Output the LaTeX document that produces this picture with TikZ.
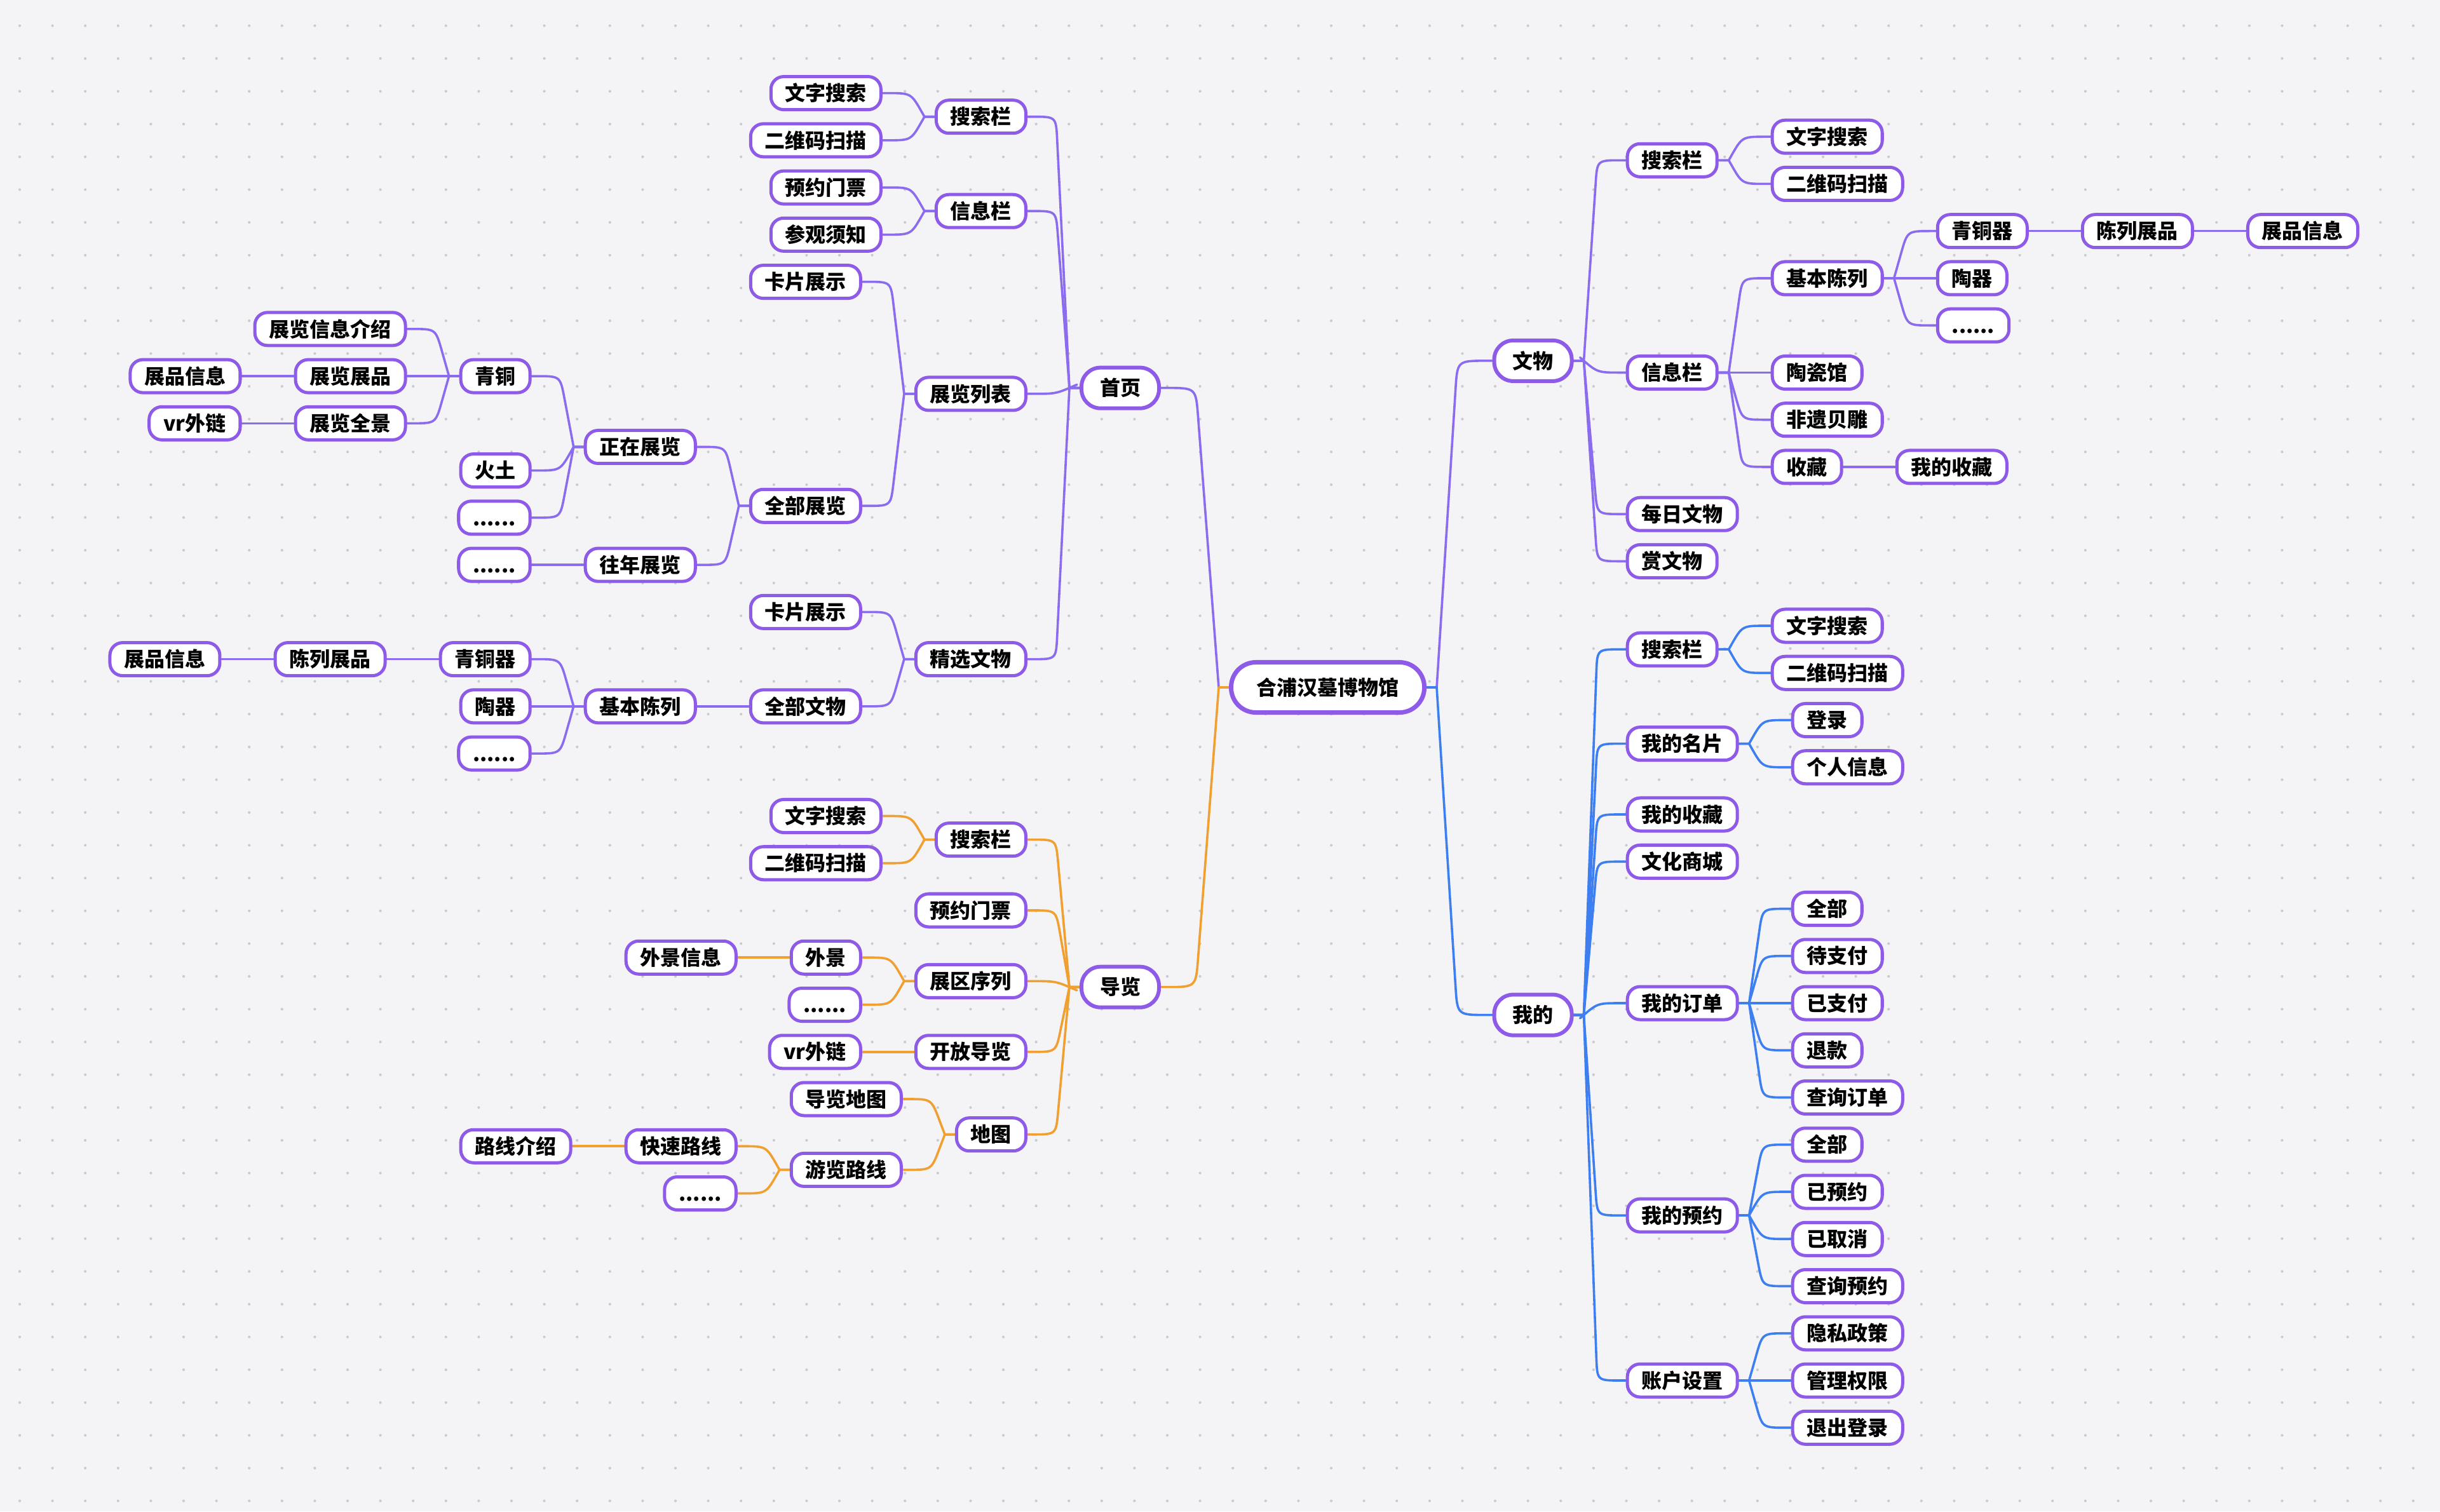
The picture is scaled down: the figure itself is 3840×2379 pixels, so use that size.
\documentclass[tikz,border=0pt]{standalone}
\usepackage{fontspec}
\newfontfamily\cjk{Noto Sans CJK SC}
\usetikzlibrary{calc}
\pgfdeclarelayer{back}
\pgfdeclarelayer{lines}
\pgfsetlayers{back,lines,main}
\definecolor{bgc}{HTML}{F4F4F6}
\definecolor{dotc}{HTML}{CACACF}
\definecolor{nodeb}{HTML}{8E5BE8}
\definecolor{conP}{HTML}{8C6CEE}
\definecolor{conO}{HTML}{F0A030}
\definecolor{conB}{HTML}{3D7EF0}
\newcommand\nodefont{\cjk\bfseries\fontsize{9.1pt}{10pt}\selectfont}
\tikzset{
  leaf/.style={draw=nodeb, fill=white, line width=0.05cm, rounded corners=0.2cm,
    minimum height=0.52cm, inner xsep=0.225cm, inner ysep=0.03cm,
    text height=0.282cm, text depth=0.038cm, font=\nodefont},
  lvone/.style={leaf, line width=0.06cm, rounded corners=0.3cm, minimum height=0.64cm, inner xsep=0.29cm},
  rootnode/.style={leaf, line width=0.07cm, rounded corners=0.39cm, minimum height=0.79cm, inner xsep=0.4cm},
  cp/.style={draw=conP, line width=0.036cm, line cap=round, line join=round},
  co/.style={draw=conO, line width=0.036cm, line cap=round, line join=round},
  cb/.style={draw=conB, line width=0.036cm, line cap=round, line join=round},
}
\def\rowst{74.25}
\def\yA{146.6}
\def\yB{1284.5}
\def\yC{215.2}
\def\yD{985}
\def\gK{45}
\def\rK{0.36cm}
% node left of parent
\newcommand\NL[5]{\pgfmathsetmacro\ty{#4}\node[#1,anchor=east,xshift=-0.82cm] (#2) at (#3.west |- 0,\ty) {#5};}
% node right of parent
\newcommand\NR[5]{\pgfmathsetmacro\ty{#4}\node[#1,anchor=west,xshift=0.82cm] (#2) at (#3.east |- 0,\ty) {#5};}
% curved connectors
\newcommand\cL[3]{%
  \path (#2.west) ++(-16,0) coordinate (tT) (#3.east) ++(\gK,0) coordinate (tK);
  \draw[#1] (#2.west) -- (tT) -- ($(tK)!\rK!(tT)$) .. controls (tK) .. ($(tK)!\rK!(#3.east)$) -- (#3.east);}
\newcommand\cR[3]{%
  \path (#2.east) ++(16,0) coordinate (tT) (#3.west) ++(-\gK,0) coordinate (tK);
  \draw[#1] (#2.east) -- (tT) -- ($(tK)!\rK!(tT)$) .. controls (tK) .. ($(tK)!\rK!(#3.west)$) -- (#3.west);}
% straight connectors
\newcommand\sL[3]{\draw[#1] (#2.west) -- (#3.east);}
\newcommand\sR[3]{\draw[#1] (#2.east) -- (#3.west);}
\begin{document}
\begin{tikzpicture}[x=0.01cm,y=-0.01cm]
\useasboundingbox (0,0) rectangle (3840,2379);
\begin{pgfonlayer}{back}
\fill[bgc] (0,0) rectangle (3840,2379);
\foreach \i in {0,...,73}{\foreach \j in {0,...,45}{\fill[dotc] ({31+51.6*\i},{40.5+51.6*\j}) circle (2.1);}}
\end{pgfonlayer}

% root and level 1
\node[rootnode] (R) at (2089.5,1082) {合浦汉墓博物馆};
\node[lvone,anchor=east] (sy) at (1827,610.66) {首页};
\node[lvone,anchor=east] (dl) at (1827,1553.66) {导览};
\node[lvone,anchor=west] (ww) at (2348.5,567.9) {文物};
\node[lvone,anchor=west] (wd) at (2348.5,1597.6) {我的};

% 首页 subtree
\NL{leaf}{a_ss}{sy}{\yA+\rowst*0.5}{搜索栏}
\NL{leaf}{a_ss1}{a_ss}{\yA}{文字搜索}
\NL{leaf}{a_ss2}{a_ss}{\yA+\rowst}{二维码扫描}
\NL{leaf}{a_xx}{sy}{\yA+\rowst*2.5}{信息栏}
\NL{leaf}{a_xx1}{a_xx}{\yA+\rowst*2}{预约门票}
\NL{leaf}{a_xx2}{a_xx}{\yA+\rowst*3}{参观须知}
\NL{leaf}{a_zl}{sy}{\yA+\rowst*6.375}{展览列表}
\NL{leaf}{a_kp}{a_zl}{\yA+\rowst*4}{卡片展示}
\NL{leaf}{a_qz}{a_zl}{\yA+\rowst*8.75}{全部展览}
\NL{leaf}{a_zz}{a_qz}{\yA+\rowst*7.5}{正在展览}
\NL{leaf}{a_qt}{a_zz}{\yA+\rowst*6}{青铜}
\NL{leaf}{a_js}{a_qt}{\yA+\rowst*5}{展览信息介绍}
\NL{leaf}{a_zp}{a_qt}{\yA+\rowst*6}{展览展品}
\NL{leaf}{a_zpx}{a_zp}{\yA+\rowst*6}{展品信息}
\NL{leaf}{a_qj}{a_qt}{\yA+\rowst*7}{展览全景}
\NL{leaf}{a_vr}{a_qj}{\yA+\rowst*7}{vr外链}
\NL{leaf}{a_ht}{a_zz}{\yA+\rowst*8}{火土}
\NL{leaf}{a_d1}{a_zz}{\yA+\rowst*9}{......}
\NL{leaf}{a_wn}{a_qz}{\yA+\rowst*10}{往年展览}
\NL{leaf}{a_d2}{a_wn}{\yA+\rowst*10}{......}
\NL{leaf}{a_jx}{sy}{\yA+\rowst*12}{精选文物}
\NL{leaf}{a_kp2}{a_jx}{\yA+\rowst*11}{卡片展示}
\NL{leaf}{a_qw}{a_jx}{\yA+\rowst*13}{全部文物}
\NL{leaf}{a_jb}{a_qw}{\yA+\rowst*13}{基本陈列}
\NL{leaf}{a_qtq}{a_jb}{\yA+\rowst*12}{青铜器}
\NL{leaf}{a_cl}{a_qtq}{\yA+\rowst*12}{陈列展品}
\NL{leaf}{a_cx}{a_cl}{\yA+\rowst*12}{展品信息}
\NL{leaf}{a_tq}{a_jb}{\yA+\rowst*13}{陶器}
\NL{leaf}{a_d3}{a_jb}{\yA+\rowst*14}{......}

% 导览 subtree
\NL{leaf}{b_ss}{dl}{\yB+\rowst*0.5}{搜索栏}
\NL{leaf}{b_ss1}{b_ss}{\yB}{文字搜索}
\NL{leaf}{b_ss2}{b_ss}{\yB+\rowst}{二维码扫描}
\NL{leaf}{b_yy}{dl}{\yB+\rowst*2}{预约门票}
\NL{leaf}{b_zq}{dl}{\yB+\rowst*3.5}{展区序列}
\NL{leaf}{b_wj}{b_zq}{\yB+\rowst*3}{外景}
\NL{leaf}{b_wjx}{b_wj}{\yB+\rowst*3}{外景信息}
\NL{leaf}{b_d1}{b_zq}{\yB+\rowst*4}{......}
\NL{leaf}{b_kf}{dl}{\yB+\rowst*5}{开放导览}
\NL{leaf}{b_vr}{b_kf}{\yB+\rowst*5}{vr外链}
\NL{leaf}{b_dt}{dl}{\yB+\rowst*6.75}{地图}
\NL{leaf}{b_dd}{b_dt}{\yB+\rowst*6}{导览地图}
\NL{leaf}{b_yl}{b_dt}{\yB+\rowst*7.5}{游览路线}
\NL{leaf}{b_ks}{b_yl}{\yB+\rowst*7}{快速路线}
\NL{leaf}{b_lx}{b_ks}{\yB+\rowst*7}{路线介绍}
\NL{leaf}{b_d2}{b_yl}{\yB+\rowst*8}{......}

% 文物 subtree
\NR{leaf}{c_ss}{ww}{\yC+\rowst*0.5}{搜索栏}
\NR{leaf}{c_ss1}{c_ss}{\yC}{文字搜索}
\NR{leaf}{c_ss2}{c_ss}{\yC+\rowst}{二维码扫描}
\NR{leaf}{c_xx}{ww}{\yC+\rowst*5}{信息栏}
\NR{leaf}{c_jb}{c_xx}{\yC+\rowst*3}{基本陈列}
\NR{leaf}{c_qtq}{c_jb}{\yC+\rowst*2}{青铜器}
\NR{leaf}{c_cl}{c_qtq}{\yC+\rowst*2}{陈列展品}
\NR{leaf}{c_cx}{c_cl}{\yC+\rowst*2}{展品信息}
\NR{leaf}{c_tq}{c_jb}{\yC+\rowst*3}{陶器}
\NR{leaf}{c_d1}{c_jb}{\yC+\rowst*4}{......}
\NR{leaf}{c_tc}{c_xx}{\yC+\rowst*5}{陶瓷馆}
\NR{leaf}{c_fy}{c_xx}{\yC+\rowst*6}{非遗贝雕}
\NR{leaf}{c_sc}{c_xx}{\yC+\rowst*7}{收藏}
\NR{leaf}{c_wsc}{c_sc}{\yC+\rowst*7}{我的收藏}
\NR{leaf}{c_mr}{ww}{\yC+\rowst*8}{每日文物}
\NR{leaf}{c_sw}{ww}{\yC+\rowst*9}{赏文物}

% 我的 subtree
\NR{leaf}{d_ss}{wd}{\yD+\rowst*0.5}{搜索栏}
\NR{leaf}{d_ss1}{d_ss}{\yD}{文字搜索}
\NR{leaf}{d_ss2}{d_ss}{\yD+\rowst}{二维码扫描}
\NR{leaf}{d_mp}{wd}{\yD+\rowst*2.5}{我的名片}
\NR{leaf}{d_dl}{d_mp}{\yD+\rowst*2}{登录}
\NR{leaf}{d_gr}{d_mp}{\yD+\rowst*3}{个人信息}
\NR{leaf}{d_sc}{wd}{\yD+\rowst*4}{我的收藏}
\NR{leaf}{d_wh}{wd}{\yD+\rowst*5}{文化商城}
\NR{leaf}{d_dd}{wd}{\yD+\rowst*8}{我的订单}
\NR{leaf}{d_dd1}{d_dd}{\yD+\rowst*6}{全部}
\NR{leaf}{d_dd2}{d_dd}{\yD+\rowst*7}{待支付}
\NR{leaf}{d_dd3}{d_dd}{\yD+\rowst*8}{已支付}
\NR{leaf}{d_dd4}{d_dd}{\yD+\rowst*9}{退款}
\NR{leaf}{d_dd5}{d_dd}{\yD+\rowst*10}{查询订单}
\NR{leaf}{d_yy}{wd}{\yD+\rowst*12.5}{我的预约}
\NR{leaf}{d_yy1}{d_yy}{\yD+\rowst*11}{全部}
\NR{leaf}{d_yy2}{d_yy}{\yD+\rowst*12}{已预约}
\NR{leaf}{d_yy3}{d_yy}{\yD+\rowst*13}{已取消}
\NR{leaf}{d_yy4}{d_yy}{\yD+\rowst*14}{查询预约}
\NR{leaf}{d_zh}{wd}{\yD+\rowst*16}{账户设置}
\NR{leaf}{d_zh1}{d_zh}{\yD+\rowst*15}{隐私政策}
\NR{leaf}{d_zh2}{d_zh}{\yD+\rowst*16}{管理权限}
\NR{leaf}{d_zh3}{d_zh}{\yD+\rowst*17}{退出登录}

\begin{pgfonlayer}{lines}
% root connectors
\def\gK{55}\def\rK{0.45cm}
\cL{cp}{R}{sy}
\cR{cp}{R}{ww}
\cL{co}{R}{dl}
\cR{cb}{R}{wd}
\def\gK{45}\def\rK{0.36cm}
% 首页
\cL{cp}{sy}{a_ss} \cL{cp}{sy}{a_xx} \cL{cp}{sy}{a_zl} \cL{cp}{sy}{a_jx}
\cL{cp}{a_ss}{a_ss1} \cL{cp}{a_ss}{a_ss2}
\cL{cp}{a_xx}{a_xx1} \cL{cp}{a_xx}{a_xx2}
\cL{cp}{a_zl}{a_kp} \cL{cp}{a_zl}{a_qz}
\cL{cp}{a_qz}{a_zz} \cL{cp}{a_qz}{a_wn}
\cL{cp}{a_zz}{a_qt} \cL{cp}{a_zz}{a_ht} \cL{cp}{a_zz}{a_d1}
\cL{cp}{a_qt}{a_js} \sL{cp}{a_qt}{a_zp} \cL{cp}{a_qt}{a_qj}
\sL{cp}{a_zp}{a_zpx} \sL{cp}{a_qj}{a_vr}
\sL{cp}{a_wn}{a_d2}
\cL{cp}{a_jx}{a_kp2} \cL{cp}{a_jx}{a_qw}
\sL{cp}{a_qw}{a_jb}
\cL{cp}{a_jb}{a_qtq} \sL{cp}{a_jb}{a_tq} \cL{cp}{a_jb}{a_d3}
\sL{cp}{a_qtq}{a_cl} \sL{cp}{a_cl}{a_cx}
% 导览
\cL{co}{dl}{b_ss} \cL{co}{dl}{b_yy} \cL{co}{dl}{b_zq} \cL{co}{dl}{b_kf} \cL{co}{dl}{b_dt}
\cL{co}{b_ss}{b_ss1} \cL{co}{b_ss}{b_ss2}
\cL{co}{b_zq}{b_wj} \cL{co}{b_zq}{b_d1}
\sL{co}{b_wj}{b_wjx}
\sL{co}{b_kf}{b_vr}
\cL{co}{b_dt}{b_dd} \cL{co}{b_dt}{b_yl}
\cL{co}{b_yl}{b_ks} \cL{co}{b_yl}{b_d2}
\sL{co}{b_ks}{b_lx}
% 文物
\cR{cp}{ww}{c_ss} \cR{cp}{ww}{c_xx} \cR{cp}{ww}{c_mr} \cR{cp}{ww}{c_sw}
\cR{cp}{c_ss}{c_ss1} \cR{cp}{c_ss}{c_ss2}
\cR{cp}{c_xx}{c_jb} \sR{cp}{c_xx}{c_tc} \cR{cp}{c_xx}{c_fy} \cR{cp}{c_xx}{c_sc}
\cR{cp}{c_jb}{c_qtq} \sR{cp}{c_jb}{c_tq} \cR{cp}{c_jb}{c_d1}
\sR{cp}{c_qtq}{c_cl} \sR{cp}{c_cl}{c_cx}
\sR{cp}{c_sc}{c_wsc}
% 我的
\cR{cb}{wd}{d_ss} \cR{cb}{wd}{d_mp} \cR{cb}{wd}{d_sc} \cR{cb}{wd}{d_wh}
\cR{cb}{wd}{d_dd} \cR{cb}{wd}{d_yy} \cR{cb}{wd}{d_zh}
\cR{cb}{d_ss}{d_ss1} \cR{cb}{d_ss}{d_ss2}
\cR{cb}{d_mp}{d_dl} \cR{cb}{d_mp}{d_gr}
\cR{cb}{d_dd}{d_dd1} \cR{cb}{d_dd}{d_dd2} \sR{cb}{d_dd}{d_dd3} \cR{cb}{d_dd}{d_dd4} \cR{cb}{d_dd}{d_dd5}
\cR{cb}{d_yy}{d_yy1} \cR{cb}{d_yy}{d_yy2} \cR{cb}{d_yy}{d_yy3} \cR{cb}{d_yy}{d_yy4}
\cR{cb}{d_zh}{d_zh1} \sR{cb}{d_zh}{d_zh2} \cR{cb}{d_zh}{d_zh3}
\end{pgfonlayer}
\end{tikzpicture}
\end{document}
